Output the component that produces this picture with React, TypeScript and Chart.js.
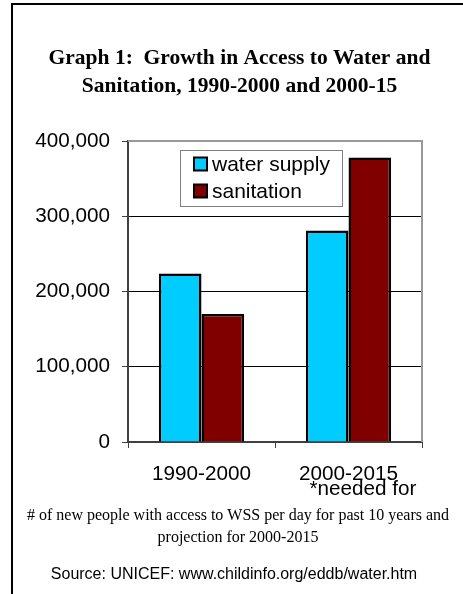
import React, { useEffect, useRef } from "react";
import { Chart, registerables } from "chart.js";

Chart.register(...registerables);

// ---- data ----
const categories: (string | string[])[] = ["1990-2000", ["2000-2015", "     *needed for"]];
const seriesNames = ["water supply", "sanitation"];
const waterSupply = [224000, 281000];
const sanitation = [170000, 378000];
const yTicks = [0, 100000, 200000, 300000, 400000];
const titleLines = ["Graph 1:  Growth in Access to Water and", "Sanitation, 1990-2000 and 2000-15"];
const captionLines = [
  "# of new people with access to WSS per day for past 10 years and",
  "projection for 2000-2015",
];
const sourceText = "Source: UNICEF: www.childinfo.org/eddb/water.htm";

const WATER = "#00CCFF";
const SAN = "#800000";
const AXIS = "#404040";
const BORDER = "#999999";
const SANS = '"Liberation Sans", Arial, sans-serif';
const SERIF = '"Liberation Serif", "Times New Roman", serif';

const decorPlugin = {
  id: "decor",
  afterDraw(chart: any) {
    const { ctx, chartArea } = chart;
    const { left, right, top, bottom } = chartArea;
    ctx.save();

    // outer frame (left + top)
    ctx.strokeStyle = "#000";
    ctx.lineWidth = 2;
    ctx.beginPath();
    ctx.moveTo(12, 594);
    ctx.lineTo(12, 4);
    ctx.lineTo(463, 4);
    ctx.stroke();

    // plot area top/right border
    ctx.strokeStyle = BORDER;
    ctx.lineWidth = 2;
    ctx.beginPath();
    ctx.moveTo(left, top);
    ctx.lineTo(right, top);
    ctx.lineTo(right, bottom);
    ctx.stroke();

    // title
    ctx.fillStyle = "#000";
    ctx.textAlign = "center";
    ctx.textBaseline = "alphabetic";
    ctx.font = `bold 21.5px ${SERIF}`;
    ctx.fillText(titleLines[0], 239.5, 64);
    ctx.fillText(titleLines[1], 239.5, 92);

    // caption
    ctx.font = `16px ${SERIF}`;
    ctx.fillText(captionLines[0], 238, 520);
    ctx.fillText(captionLines[1], 238, 542);

    // source
    ctx.font = `16px ${SANS}`;
    ctx.fillText(sourceText, 234, 579);

    // legend box
    const lx = left + 52;
    const ly = top + 9;
    const lw = 162;
    const lh = 56;
    ctx.fillStyle = "#fff";
    ctx.fillRect(lx, ly, lw, lh);
    ctx.strokeStyle = "#808080";
    ctx.lineWidth = 1;
    ctx.strokeRect(lx + 0.5, ly + 0.5, lw, lh);
    const ds = chart.data.datasets;
    ctx.font = `21px ${SANS}`;
    ctx.textAlign = "left";
    ctx.textBaseline = "middle";
    ds.forEach((d: any, i: number) => {
      const cy = ly + 14 + i * 27;
      ctx.fillStyle = d.backgroundColor;
      ctx.fillRect(lx + 14, cy - 6.5, 13, 13);
      ctx.strokeStyle = "#000";
      ctx.lineWidth = 2;
      ctx.strokeRect(lx + 14, cy - 6.5, 13, 13);
      ctx.fillStyle = "#000";
      ctx.fillText(d.label, lx + 32, cy + 1);
    });

    ctx.restore();
  },
};

export default function App() {
  const canvasRef = useRef<HTMLCanvasElement | null>(null);

  useEffect(() => {
    const canvas = canvasRef.current;
    if (!canvas) return;
    const chart = new Chart(canvas, {
      type: "bar",
      data: {
        labels: categories,
        datasets: [
          {
            label: seriesNames[0],
            data: waterSupply,
            backgroundColor: WATER,
            borderColor: "#000",
            borderWidth: 2.5,
            categoryPercentage: 0.58,
            barPercentage: 1,
          },
          {
            label: seriesNames[1],
            data: sanitation,
            backgroundColor: SAN,
            borderColor: "#000",
            borderWidth: 2.5,
            categoryPercentage: 0.58,
            barPercentage: 1,
          },
        ],
      },
      options: {
        responsive: false,
        animation: false,
        devicePixelRatio: 1,
        layout: { padding: { top: 141, left: 0, right: 41, bottom: 92 } },
        plugins: {
          legend: { display: false },
          title: { display: false },
          tooltip: { enabled: false },
        },
        scales: {
          x: {
            offset: true,
            grid: {
              offset: true,
              drawOnChartArea: false,
              drawTicks: true,
              tickLength: 6,
              tickColor: AXIS,
              tickWidth: 1,
            },
            border: { display: true, color: AXIS, width: 2 },
            ticks: {
              color: "#000",
              padding: 19,
              maxRotation: 0,
              autoSkip: false,
              font: { family: SANS, size: 20.7, lineHeight: 0.725 },
            },
            afterFit(scale: any) {
              scale.height = 60;
            },
          },
          y: {
            min: yTicks[0],
            max: yTicks[yTicks.length - 1],
            afterBuildTicks(scale: any) {
              scale.ticks = yTicks.map((v) => ({ value: v }));
            },
            grid: {
              color: (c: any) => (c.tick && (c.tick.value === 0 || c.tick.value === yTicks[yTicks.length - 1]) ? "rgba(0,0,0,0)" : "#000"),
              lineWidth: 1,
              drawTicks: true,
              tickLength: 6,
              tickColor: AXIS,
              tickWidth: 1,
            },
            border: { display: true, color: AXIS, width: 2 },
            ticks: {
              color: "#000",
              padding: 12,
              font: { family: SANS, size: 20.7 },
              callback: (v: any) => Number(v).toLocaleString("en-US"),
            },
            afterFit(scale: any) {
              scale.width = 128;
            },
          },
        },
      },
      plugins: [decorPlugin],
    });
    return () => chart.destroy();
  }, []);

  return (
    <div style={{ position: "fixed", left: 0, top: 0, width: 463, height: 594, background: "#fff" }}>
      <canvas ref={canvasRef} width={463} height={594} style={{ display: "block", width: 463, height: 594 }} />
    </div>
  );
}
